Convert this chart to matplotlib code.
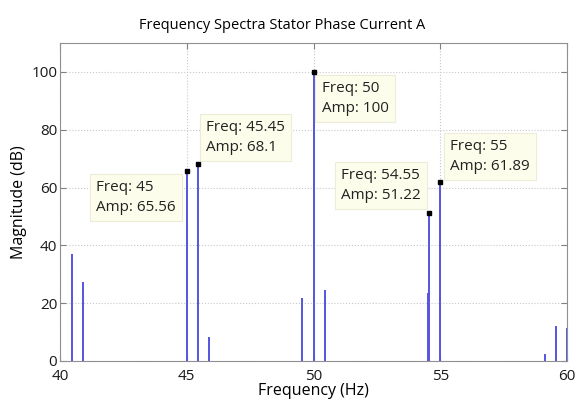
import matplotlib
matplotlib.use("Agg")
import matplotlib.pyplot as plt

# spectrum lines (Hz, dB)
freqs = [40.46, 40.9, 45.0, 45.45, 45.89, 49.55, 50.0, 50.45, 54.5, 54.55, 55.0, 59.13, 59.55, 60.0]
amps = [37.0, 27.5, 65.56, 68.1, 8.2, 21.8, 100.0, 24.4, 23.5, 51.22, 61.89, 2.3, 12.0, 11.3]

# data tips
tip_freqs = [45, 45.45, 50, 54.55, 55]
tip_amps = [65.56, 68.1, 100, 51.22, 61.89]
tip_labels = ["45", "45.45", "50", "54.55", "55"]
# (offset in points, ha, va)
tip_places = [((-8, -6), "right", "top"),
              ((5.8, 6.6), "left", "bottom"),
              ((5.8, -6.6), "left", "top"),
              ((-5.8, 7.3), "right", "bottom"),
              ((7.3, 5.8), "left", "bottom")]

plt.rcParams['font.family'] = ['Open Sans', 'DejaVu Sans']

fig = plt.figure(figsize=(5.81, 3.99), dpi=100)
ax = fig.add_axes([60 / 581, 1 - 361 / 399, 507 / 581, 318 / 399])

ax.vlines(freqs, 0, amps, colors="#5555e0", linewidth=1.4)

for f, a, lab, (off, ha, va) in zip(tip_freqs, tip_amps, tip_labels, tip_places):
    ax.plot([f], [a], marker="s", color="black", markersize=3.5, zorder=7)
    ax.annotate(f"Freq: {lab}\nAmp: {a:g}", xy=(f, a), xytext=off,
                textcoords="offset points", ha=ha, va=va, multialignment="left",
                fontsize=11, linespacing=1.45, zorder=6, color="#222222",
                bbox=dict(boxstyle="square,pad=0.4", fc="#fdfdec", ec="#ececd8", lw=0.8))

ax.set_xlim(40, 60)
ax.set_ylim(0, 110)
ax.set_xticks([40, 45, 50, 55, 60])
ax.set_yticks([0, 20, 40, 60, 80, 100])
ax.grid(True, linestyle=":", color="#c8c8c8", linewidth=0.8)
ax.set_axisbelow(True)
ax.tick_params(direction="in", top=True, right=True, labelsize=11, length=4,
               color="#808080", labelcolor="#1a1a1a")
ax.tick_params(axis="x", pad=5.5)
ax.tick_params(axis="y", pad=2)
for s in ax.spines.values():
    s.set_color("#909090")

ax.set_title("Frequency Spectra Stator Phase Current A", fontsize=10.5, pad=10,
             x=0.438)
ax.set_xlabel("Frequency (Hz)", fontsize=11.5, labelpad=-0.5)
ax.set_ylabel("Magnitude (dB)", fontsize=11.5, labelpad=3)

fig.savefig("out.png", dpi=100)
